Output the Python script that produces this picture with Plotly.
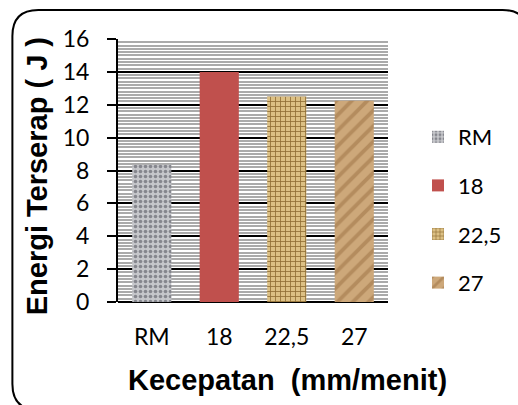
import plotly.graph_objects as go

# Absorbed energy per cutting speed
categories = ["RM", "18", "22,5", "27"]
energy = [8.35, 14.0, 12.5, 12.25]
y_ticks = [0, 2, 4, 6, 8, 10, 12, 14, 16]

W, H = 518, 405
ML, MR, MT, MB = 118, 129, 39, 103
PW, PH = W - ML - MR, H - MT - MB


def px_x(x):
    return (x - ML) / PW


def px_y(y):
    return (H - MB - y) / PH


styles = [
    dict(color="#c4c5c9", pattern=dict(shape=".", bgcolor="#c6c7cb", fgcolor="#85868d",
                                        size=5, solidity=0.4, fillmode="replace")),
    dict(color="#c0504d"),
    dict(color="#d6b878", pattern=dict(shape="+", bgcolor="#dcc084", fgcolor="#8f6e35",
                                        size=5, solidity=0.3, fillmode="replace")),
    dict(color="#c8a070", pattern=dict(shape="/", bgcolor="#cda87a", fgcolor="#b48c5e",
                                        size=11, solidity=0.35, fillmode="replace")),
]

fig = go.Figure()
for i, (cat, val) in enumerate(zip(categories, energy)):
    fig.add_trace(go.Bar(
        x=[cat], y=[val], name=cat, width=0.58,
        marker=dict(line=dict(width=0), **styles[i]),
        legendgroup=cat,
    ))

tick_font = dict(family="Lato, 'Open Sans', sans-serif", size=23, color="black")
legend_font = dict(family="Lato, 'Open Sans', sans-serif", size=22, color="black")
title_font = dict(family="Liberation Sans, Arial, sans-serif", size=29, color="black",
                  weight="bold")

fig.update_layout(
    width=W, height=H,
    margin=dict(l=ML, r=MR, t=MT, b=MB, pad=0),
    paper_bgcolor="white", plot_bgcolor="white",
    barmode="overlay",
    showlegend=True,
    legend=dict(
        x=px_x(418), y=px_y(210), xanchor="left", yanchor="middle",
        font=legend_font, traceorder="grouped", tracegroupgap=17,
        bgcolor="rgba(0,0,0,0)",
    ),
    xaxis=dict(
        categoryorder="array", categoryarray=categories,
        range=[-0.5, 3.5],
        showline=False, ticks="", showgrid=False,
        tickfont=tick_font, ticklabelstandoff=19,
    ),
    yaxis=dict(
        range=[0, 16], tickvals=y_ticks,
        showline=True, linecolor="black", linewidth=2,
        ticks="outside", ticklen=9, tickwidth=1.5, tickcolor="black",
        showgrid=True, gridcolor="black", gridwidth=1.5,
        zeroline=True, zerolinecolor="black", zerolinewidth=2,
        minor=dict(dtick=0.2, showgrid=True, gridcolor="#aaaaaa", gridwidth=1.5),
        tickfont=tick_font, ticklabelstandoff=13,
    ),
    annotations=[
        dict(text="Energi Terserap ( J )", xref="paper", yref="paper",
             x=px_x(37), y=px_y(176), textangle=-90, showarrow=False,
             xanchor="center", yanchor="middle", font=title_font),
        dict(text="Kecepatan\u00a0 (mm/menit)", xref="paper", yref="paper",
             x=px_x(288), y=px_y(380), showarrow=False,
             xanchor="center", yanchor="middle", font=title_font),
    ],
)

# Rounded frame around the chart
x0, x1, y0, y1, r = 12, 530, 10, 410, 26
path = (
    f"M {px_x(x0 + r)},{px_y(y0)} L {px_x(x1 - r)},{px_y(y0)} "
    f"Q {px_x(x1)},{px_y(y0)} {px_x(x1)},{px_y(y0 + r)} "
    f"L {px_x(x1)},{px_y(y1 - r)} Q {px_x(x1)},{px_y(y1)} {px_x(x1 - r)},{px_y(y1)} "
    f"L {px_x(x0 + r)},{px_y(y1)} Q {px_x(x0)},{px_y(y1)} {px_x(x0)},{px_y(y1 - r)} "
    f"L {px_x(x0)},{px_y(y0 + r)} Q {px_x(x0)},{px_y(y0)} {px_x(x0 + r)},{px_y(y0)} Z"
)
fig.add_shape(type="path", path=path, xref="paper", yref="paper",
              line=dict(color="black", width=2), layer="above")

fig.write_html("out.html")
